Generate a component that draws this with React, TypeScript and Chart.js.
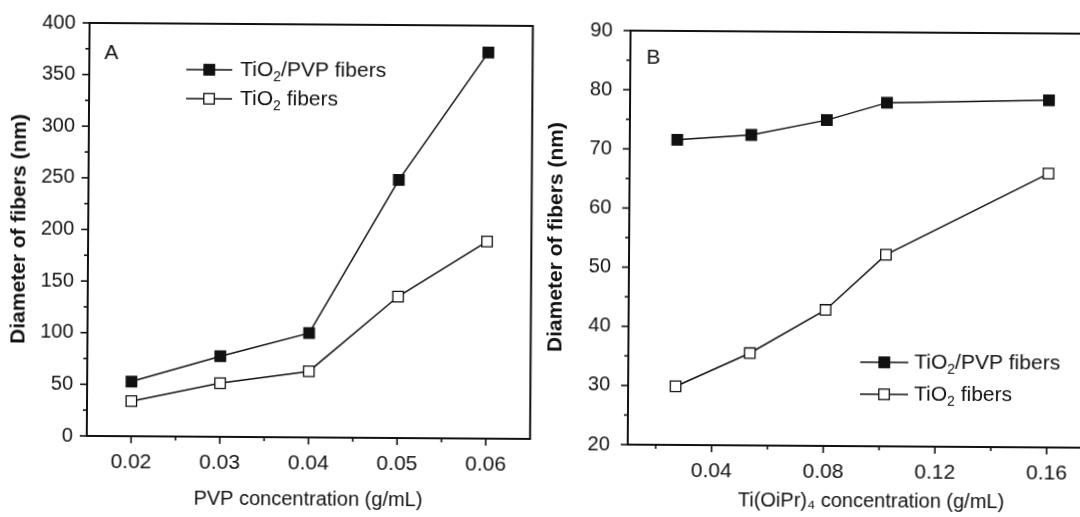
import React, { useEffect, useRef } from "react";
import { Chart, registerables } from "chart.js";

Chart.register(...registerables);

// ---------- data ----------
const SERIES_LABELS = ["TiO₂/PVP fibers", "TiO₂ fibers"];
const Y_TITLE = "Diameter of fibers (nm)";

const A_X = [0.02, 0.03, 0.04, 0.05, 0.06];
const A_TIO2_PVP = [53, 78, 101, 250, 374];
const A_TIO2 = [34, 52, 64, 137, 191];
const A_X_TICKS = [0.02, 0.03, 0.04, 0.05, 0.06];
const A_X_MINOR = [0.025, 0.035, 0.045, 0.055];
const A_Y_TICKS = [0, 50, 100, 150, 200, 250, 300, 350, 400];
const A_Y_MINOR = [25, 75, 125, 175, 225, 275, 325, 375];
const A_X_TITLE = "PVP concentration (g/mL)";

const B_X = [0.027, 0.0535, 0.0805, 0.102, 0.16];
const B_TIO2_PVP = [71.6, 72.5, 75.1, 78.1, 78.7];
const B_TIO2 = [29.9, 35.6, 43.0, 52.4, 66.3];
const B_X_TICKS = [0.04, 0.08, 0.12, 0.16];
const B_X_MINOR = [0.02, 0.06, 0.1, 0.14, 0.18];
const B_Y_TICKS = [20, 30, 40, 50, 60, 70, 80, 90];
const B_Y_MINOR = [25, 35, 45, 55, 65, 75, 85];
const B_X_TITLE = "Ti(OiPr)₄ concentration (g/mL)";

const FONT = "'Liberation Sans', Arial, Helvetica, sans-serif";
const INK = "#111";

// ---------- helpers ----------
const SUBS: Record<string, string> = { "₂": "2", "₄": "4" };

function drawRich(ctx: CanvasRenderingContext2D, text: string, x: number, y: number, size: number) {
  let cx = x;
  let run = "";
  const flush = () => {
    if (!run) return;
    ctx.font = `${size}px ${FONT}`;
    ctx.fillText(run, cx, y);
    cx += ctx.measureText(run).width;
    run = "";
  };
  for (const ch of text) {
    if (SUBS[ch]) {
      flush();
      const s = Math.round(size * 0.68);
      ctx.font = `${s}px ${FONT}`;
      ctx.fillText(SUBS[ch], cx, y + size * 0.32);
      cx += ctx.measureText(SUBS[ch]).width;
    } else run += ch;
  }
  flush();
}

const decoPlugin = {
  id: "deco",
  beforeDatasetsDraw(chart: any, _a: any, opts: any) {
    const { ctx, chartArea } = chart;
    const { left, right, top, bottom } = chartArea;
    const xs = chart.scales.x;
    const ys = chart.scales.y;
    ctx.save();
    ctx.strokeStyle = INK;
    ctx.lineWidth = 2;
    ctx.strokeRect(left, top, right - left, bottom - top);
    ctx.lineWidth = 1.6;
    const tick = (vals: number[], len: number, horiz: boolean) => {
      for (const v of vals) {
        ctx.beginPath();
        if (horiz) {
          const p = xs.getPixelForValue(v);
          if (p < left - 0.5 || p > right + 0.5) continue;
          ctx.moveTo(p, bottom);
          ctx.lineTo(p, bottom + len);
        } else {
          const p = ys.getPixelForValue(v);
          if (p < top - 0.5 || p > bottom + 0.5) continue;
          ctx.moveTo(left, p);
          ctx.lineTo(left - len, p);
        }
        ctx.stroke();
      }
    };
    tick(opts.xMajor, 7, true);
    tick(opts.xMinor, 4, true);
    tick(opts.yMajor, 7, false);
    tick(opts.yMinor, 4, false);
    ctx.restore();
  },
  afterDraw(chart: any, _a: any, opts: any) {
    const { ctx } = chart;
    ctx.save();
    ctx.fillStyle = INK;
    ctx.strokeStyle = INK;
    ctx.textBaseline = "middle";
    // panel letter
    ctx.font = `21px ${FONT}`;
    ctx.textAlign = "center";
    ctx.fillText(opts.letter, opts.letterX, opts.letterY);
    ctx.textAlign = "left";
    // legend
    const lg = opts.legend;
    chart.data.datasets.forEach((ds: any, i: number) => {
      const y = lg.rows[i];
      ctx.lineWidth = 1.6;
      ctx.beginPath();
      ctx.moveTo(lg.x0, y);
      ctx.lineTo(lg.x1, y);
      ctx.stroke();
      const s = lg.marker;
      ctx.fillStyle = ds.pointBackgroundColor;
      ctx.fillRect(lg.xm - s / 2, y - s / 2, s, s);
      ctx.lineWidth = 1.3;
      ctx.strokeRect(lg.xm - s / 2, y - s / 2, s, s);
      ctx.fillStyle = INK;
      drawRich(ctx, ds.label, lg.xt, y, lg.size);
    });
    ctx.restore();
  },
};

function buildConfig(p: any): any {
  const mk = (label: string, ys: number[], filled: boolean) => ({
    label,
    data: p.xs.map((x: number, i: number) => ({ x, y: ys[i] })),
    borderColor: INK,
    borderWidth: 1.5,
    pointStyle: "rect",
    pointRadius: 7.4,
    pointBackgroundColor: filled ? INK : "#fff",
    pointBorderColor: INK,
    pointBorderWidth: 1.3,
    tension: 0,
    clip: false,
  });
  return {
    type: "line",
    data: {
      datasets: [mk(SERIES_LABELS[0], p.s1, true), mk(SERIES_LABELS[1], p.s2, false)],
    },
    options: {
      responsive: false,
      animation: false,
      layout: { padding: p.padding },
      plugins: {
        legend: { display: false },
        tooltip: { enabled: false },
        deco: {
          xMajor: p.xTicks,
          xMinor: p.xMinor,
          yMajor: p.yTicks,
          yMinor: p.yMinor,
          letter: p.letter,
          letterX: p.letterX,
          letterY: p.letterY,
          legend: p.legend,
        },
      },
      scales: {
        x: {
          type: "linear",
          position: "bottom",
          min: p.xMin,
          max: p.xMax,
          afterBuildTicks: (s: any) => {
            s.ticks = p.xTicks.map((v: number) => ({ value: v }));
          },
          afterFit: (s: any) => {
            s.height = p.xHeight;
          },
          grid: { display: false, drawTicks: false },
          border: { display: false },
          ticks: {
            autoSkip: false,
            maxRotation: 0,
            padding: 14,
            color: INK,
            font: { family: FONT, size: 21 },
            callback: (v: any) => Number(v).toFixed(2),
          },
          title: {
            display: true,
            text: p.xTitle,
            color: INK,
            font: { family: FONT, size: 20 },
            padding: { top: 0, bottom: p.xTitlePad },
          },
        },
        y: {
          type: "linear",
          min: p.yMin,
          max: p.yMax,
          afterBuildTicks: (s: any) => {
            s.ticks = p.yTicks.map((v: number) => ({ value: v }));
          },
          afterFit: (s: any) => {
            s.width = p.yWidth;
          },
          grid: { display: false, drawTicks: false },
          border: { display: false },
          ticks: {
            autoSkip: false,
            padding: p.yTickPad,
            color: INK,
            font: { family: FONT, size: 20 },
            callback: (v: any) => String(v),
          },
          title: {
            display: true,
            text: Y_TITLE,
            color: INK,
            font: { family: FONT, size: 21, weight: "bold" },
            padding: { top: p.yTitlePad, bottom: 0 },
          },
        },
      },
    },
    plugins: [decoPlugin],
  };
}

const PANEL_A = {
  xs: A_X,
  s1: A_TIO2_PVP,
  s2: A_TIO2,
  xMin: 0.015,
  xMax: 0.065,
  yMin: 0,
  yMax: 400,
  xTicks: A_X_TICKS,
  xMinor: A_X_MINOR,
  yTicks: A_Y_TICKS,
  yMinor: A_Y_MINOR,
  xTitle: A_X_TITLE,
  padding: { left: 0, top: 24, right: 8, bottom: 0 },
  xHeight: 78,
  yWidth: 88,
  yTickPad: 14,
  yTitlePad: 7,
  xTitlePad: 4,
  letter: "A",
  letterX: 110,
  letterY: 56,
  legend: { x0: 185, x1: 231, xm: 208, xt: 239, rows: [72, 101], size: 21, marker: 10.5 },
};

const PANEL_B = {
  xs: B_X,
  s1: B_TIO2_PVP,
  s2: B_TIO2,
  xMin: 0.01,
  xMax: 0.1845,
  yMin: 20,
  yMax: 90,
  xTicks: B_X_TICKS,
  xMinor: B_X_MINOR,
  yTicks: B_Y_TICKS,
  yMinor: B_Y_MINOR,
  xTitle: B_X_TITLE,
  padding: { left: 0, top: 25, right: 0, bottom: 0 },
  xHeight: 73,
  yWidth: 89,
  yTickPad: 18,
  yTitlePad: 4,
  xTitlePad: 6,
  letter: "B",
  letterX: 112,
  letterY: 57,
  legend: { x0: 321, x1: 369, xm: 345, xt: 375, rows: [360, 392], size: 21, marker: 10.5 },
};

function Panel({ cfg, left, width }: { cfg: any; left: number; width: number }) {
  const ref = useRef<HTMLCanvasElement>(null);
  useEffect(() => {
    const chart = new Chart(ref.current as HTMLCanvasElement, buildConfig(cfg));
    return () => chart.destroy();
  }, [cfg]);
  return (
    <canvas
      ref={ref}
      width={width}
      height={517}
      style={{ position: "absolute", left, top: 0, width, height: 517, display: "block" }}
    />
  );
}

export default function App() {
  return (
    <div
      style={{
        position: "absolute",
        left: 0,
        top: 0,
        width: 1080,
        height: 517,
        overflow: "hidden",
        background: "#fff",
      }}
    >
      <div
        style={{
          position: "absolute",
          left: 0,
          top: 0,
          width: 1080,
          height: 517,
          transform: "rotate(0.39deg)",
          transformOrigin: "540px 258px",
        }}
      >
        <Panel cfg={PANEL_A} left={0} width={540} />
        <Panel cfg={PANEL_B} left={540} width={585} />
      </div>
    </div>
  );
}
